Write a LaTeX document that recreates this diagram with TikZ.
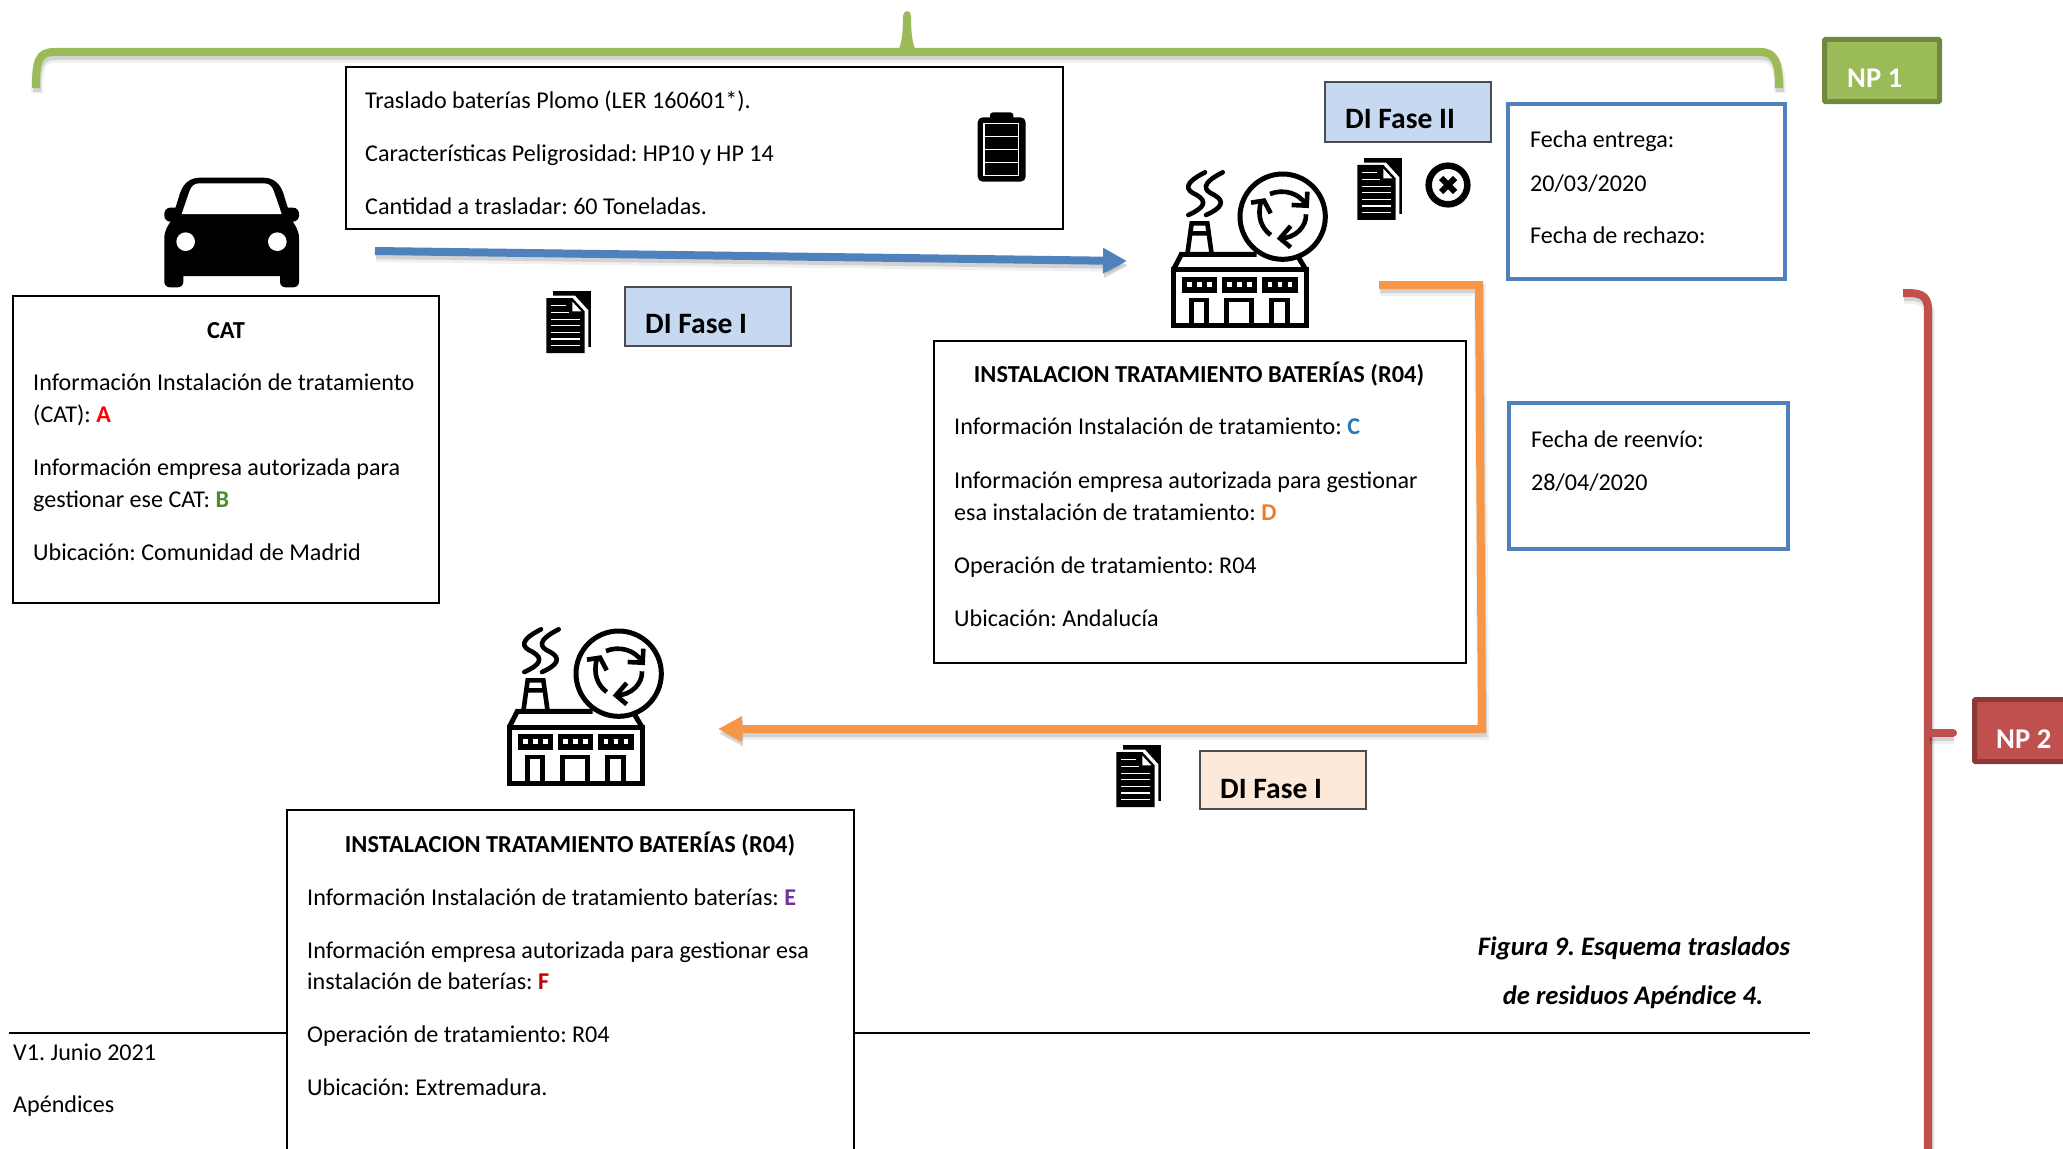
\documentclass[tikz,border=0pt]{standalone}
\usepackage{fontspec}
\setmainfont{Carlito}
\usetikzlibrary{arrows.meta}
\frenchspacing
\definecolor{gbr}{HTML}{9BBB59}
\definecolor{gbrd}{HTML}{71893F}
\definecolor{rbr}{HTML}{C0504D}
\definecolor{rbrd}{HTML}{8C3836}
\definecolor{bl}{HTML}{4F81BD}
\definecolor{bfill}{HTML}{C6D9F1}
\definecolor{org}{HTML}{F79646}
\definecolor{ofill}{HTML}{FDE9D9}
\definecolor{lA}{HTML}{FF0000}
\definecolor{lB}{HTML}{4F8A2F}
\definecolor{lC}{HTML}{2E75B6}
\definecolor{lD}{HTML}{ED7D31}
\definecolor{lE}{HTML}{7030A0}
\definecolor{lF}{HTML}{C00000}
\tikzset{
  txt/.style={anchor=base west,inner sep=0pt,font=\fontsize{24.1}{28}\selectfont},
  ttl/.style={anchor=base,inner sep=0pt,font=\fontsize{24.4}{28}\selectfont\bfseries},
  blk/.style={txt,font=\fontsize{29.6}{32}\selectfont\bfseries},
  figcap/.style={anchor=base,inner sep=0pt,font=\fontsize{26.7}{30}\selectfont\bfseries\itshape},
  whitetag/.style={txt,text=white,font=\fontsize{28.6}{32}\selectfont\bfseries},
  boxbase/.style={draw=black,line width=1.1pt,fill=white,anchor=north west,inner sep=0pt,outer sep=0pt,rectangle},
  dibase/.style={draw=black!70,line width=1.1pt,anchor=north west,inner sep=0pt,outer sep=0pt,rectangle},
  datebox/.style={draw=bl,line width=4.6pt,fill=white,anchor=north west,inner sep=0pt,outer sep=0pt,rectangle},
  tagbox/.style={line width=5pt,anchor=north west,inner sep=0pt,outer sep=0pt,rectangle,rounded corners=1pt,minimum width=115pt,minimum height=62pt},
  softline/.style={line width=8pt,
    preaction={draw=black,opacity=.06,line width=12pt,transform canvas={xshift=1pt,yshift=-5pt}},
    preaction={draw=black,opacity=.12,line width=8pt,transform canvas={xshift=1pt,yshift=-4pt}}},
  tipped/.style={softline,-{Triangle[length=24pt,width=24pt]}},
  docicon/.pic={
    \fill[black] (642,265) -- (755,265) -- (755,432) -- (642,432) -- cycle;
    \fill[white] (610,278) -- (708,278) -- (748,322) -- (748,462) -- (610,462) -- cycle;
    \fill[black] (622,285) -- (700,285) -- (737,325) -- (737,450) -- (622,450) -- cycle;
    \fill[white] (700,296) -- (727,325) -- (700,325) -- cycle;
    \draw[white,line width=1.2pt]
      (637,308) -- (680,308) (637,328) -- (690,328) (637,349) -- (722,349)
      (637,368) -- (722,368) (637,388) -- (722,388) (637,408) -- (722,408) (637,428) -- (722,428);
  },
  factoryicon/.pic={
    \draw[line width=5pt,line join=miter] (70,600) rectangle (468,768);
    \draw[line width=5pt] (70,600) -- (94,553) -- (320,553) (440,553) -- (468,600);
    \draw[line width=4.6pt] (112,553) -- (125,460) -- (172,460) -- (185,553) (120,490) -- (178,490);
    \draw[line width=4.6pt,line cap=round] (165,307) .. controls (100,340) and (105,360) .. (140,375) .. controls (175,395) and (160,415) .. (115,435);
    \draw[line width=4.6pt,line cap=round] (218,307) .. controls (153,340) and (158,360) .. (193,375) .. controls (228,395) and (213,415) .. (168,435);
    \draw[line width=5pt,fill=white] (398,440) circle (128);
    \draw[line width=4.6pt] (360,372) .. controls (400,355) and (450,370) .. (468,405);
    \draw[line width=4.6pt] (425,405) -- (470,407) -- (472,365);
    \draw[line width=4.6pt] (362,495) .. controls (335,475) and (320,440) .. (333,395);
    \draw[line width=4.6pt] (303,398) -- (342,392) -- (362,430);
    \draw[line width=4.6pt] (468,433) .. controls (470,470) and (435,505) .. (392,505);
    \draw[line width=4.6pt] (422,468) -- (390,505) -- (422,532);
    \foreach \xa/\xb in {95/200,215/322,337/443}{
      \fill[black] (\xa,622) rectangle (\xb,668);
      \foreach \k in {0,1,2}{
        \fill[white] ({(\xa+\xb)/2-30+\k*30-7},636) rectangle ++(14,14);
      }
    }
    \draw[line width=4.6pt] (125,768) -- (125,690) -- (170,690) -- (170,768);
    \draw[line width=4.6pt] (230,768) -- (230,690) -- (305,690) -- (305,768);
    \draw[line width=4.6pt] (365,768) -- (365,690) -- (412,690) -- (412,768);
  },
  caricon/.pic={
    \fill[black,rounded corners=6pt] (103,173) rectangle (200,215);
    \fill[black,rounded corners=6pt] (410,173) rectangle (507,215);
    \fill[black] (103,265) .. controls (103,240) and (115,225) .. (125,210) -- (150,130)
      .. controls (160,100) and (180,83) .. (210,83) -- (400,83)
      .. controls (430,83) and (450,100) .. (460,130) -- (485,210)
      .. controls (495,225) and (507,240) .. (507,265) -- (507,395)
      .. controls (507,405) and (500,412) .. (490,412) -- (467,412)
      .. controls (457,412) and (450,405) .. (450,395) -- (450,378) -- (160,378) -- (160,395)
      .. controls (160,405) and (153,412) .. (143,412) -- (120,412)
      .. controls (110,412) and (103,405) .. (103,395) -- cycle;
    \fill[white] (155,192) -- (178,125) .. controls (184,108) and (193,100) .. (208,100) -- (402,100)
      .. controls (417,100) and (426,108) .. (432,125) -- (455,192) -- cycle;
    \fill[white] (167,275) circle (28) (442,275) circle (28);
  },
  batteryicon/.pic={
    \fill[black,rounded corners=3pt] (90,37) rectangle (160,70);
    \fill[black,rounded corners=5pt] (53,52) rectangle (197,245);
    \draw[white,line width=1.3pt] (72,70) rectangle (176,226)
      (72,109) -- (176,109) (72,148) -- (176,148) (72,187) -- (176,187);
  },
  crossicon/.pic={
    \draw[line width=6.5pt] (0,0) circle (58);
    \draw[line width=6pt] (-21,-21) -- (21,21) (-21,21) -- (21,-21);
  }
}
\begin{document}
\begin{tikzpicture}[x=1pt,y=-1pt]
\useasboundingbox (0,0) rectangle (2063,1148);
\begin{scope}
\clip (0,0) rectangle (2063,1148);
\fill[white] (0,0) rectangle (2063,1148);

% footer rule
\coordinate (ruleL) at (9,1033);
\coordinate (ruleR) at (1810,1033);
\draw[line width=1.3pt] (ruleL) -- (ruleR);

% boxes
\node[boxbase,minimum width=717pt,minimum height=162pt] (topbox) at (346,67) {};
\node[boxbase,minimum width=426pt,minimum height=307pt] (catbox) at (13,296) {};
\node[boxbase,minimum width=532pt,minimum height=322pt] (instA) at (934,341) {};
\node[boxbase,minimum width=567pt,minimum height=360pt] (instB) at (287,810) {};
\node[dibase,fill=bfill,minimum width=166pt,minimum height=59pt] (diA) at (625,287) {};
\node[dibase,fill=bfill,minimum width=166pt,minimum height=60pt] (diB) at (1325,82) {};
\node[dibase,fill=ofill,minimum width=166pt,minimum height=58pt] (diC) at (1200,751) {};
\node[datebox,minimum width=277pt,minimum height=175pt] (dateA) at (1508,104) {};
\node[datebox,minimum width=279pt,minimum height=146pt] (dateB) at (1509,403) {};
\node[tagbox,draw=gbrd,fill=gbr] (npA) at (1824.5,39.5) {};
\node[tagbox,draw=rbrd,fill=rbr] (npB) at (1974.5,699.5) {};

% top box text
\node[txt] (t1) at (365,108) {Traslado baterías Plomo (LER 160601*).};
\node[txt] (t2) at (365,161) {Características Peligrosidad: HP10 y HP 14};
\node[txt] (t3) at (365,214) {Cantidad a trasladar: 60 Toneladas.};

% CAT
\node[ttl] (c0) at (226,338) {CAT};
\node[txt] (c1) at (33,390.5) {Información Instalación de tratamiento};
\node[txt] (c2) at (33,422.5) {(CAT): \textbf{\textcolor{lA}{A}}};
\node[txt] (c3) at (33,475.5) {Información empresa autorizada para};
\node[txt] (c4) at (33,507.5) {gestionar ese CAT: \textbf{\textcolor{lB}{B}}};
\node[txt] (c5) at (33,560) {Ubicación: Comunidad de Madrid};

% Inst A
\node[ttl] (a0) at (1199,382) {INSTALACION TRATAMIENTO BATERÍAS (R04)};
\node[txt] (a1) at (954,434) {Información Instalación de tratamiento: \textbf{\textcolor{lC}{C}}};
\node[txt] (a2) at (954,488) {Información empresa autorizada para gestionar};
\node[txt] (a3) at (954,520) {esa instalación de tratamiento: \textbf{\textcolor{lD}{D}}};
\node[txt] (a4) at (954,573) {Operación de tratamiento: R04};
\node[txt] (a5) at (954,626) {Ubicación: Andalucía};

% Inst B
\node[ttl] (b0) at (570,852) {INSTALACION TRATAMIENTO BATERÍAS (R04)};
\node[txt] (b1) at (307,905) {Información Instalación de tratamiento baterías: \textbf{\textcolor{lE}{E}}};
\node[txt] (b2) at (307,958) {Información empresa autorizada para gestionar esa};
\node[txt] (b3) at (307,989) {instalación de baterías: \textbf{\textcolor{lF}{F}}};
\node[txt] (b4) at (307,1042) {Operación de tratamiento: R04};
\node[txt] (b5) at (307,1095) {Ubicación: Extremadura.};

% dates
\node[txt] (d1) at (1530,147) {Fecha entrega:};
\node[txt] (d2) at (1530,191) {20/03/2020};
\node[txt] (d3) at (1530,243) {Fecha de rechazo:};
\node[txt] (e1) at (1531,447) {Fecha de reenvío:};
\node[txt] (e2) at (1531,490) {28/04/2020};

% DI labels
\node[blk] (l1) at (645,333) {DI Fase I};
\node[blk] (l2) at (1345,128) {DI Fase II};
\node[blk] (l3) at (1220,798) {DI Fase I};
\node[whitetag] (n1) at (1847,88) {NP 1};
\node[whitetag] (n2) at (1996,748) {NP 2};

% footer + caption
\node[txt] (f1) at (13,1060) {V1. Junio 2021};
\node[txt] (f2) at (13,1112) {Apéndices};
\node[figcap] (g1) at (1634,955) {Figura 9. Esquema traslados};
\node[figcap] (g2) at (1633,1004) {de residuos Apéndice 4.};

% connectors
\coordinate (bs) at (375,251);
\coordinate (be) at (1127,261);
\draw[tipped,bl] (bs) -- (be);
\coordinate (os) at (1379,285);
\coordinate (oc1) at (1479,285);
\coordinate (oc2) at (1482,729);
\coordinate (oe) at (718,729);
\draw[tipped,org,line join=miter] (os) -- (oc1) -- (oc2) -- (oe);

% green brace
\coordinate (gL) at (36,88);
\coordinate (gTip) at (907,11);
\coordinate (gR) at (1779,88);
\draw[softline,gbr,line cap=butt] (gL) .. controls (36,62) and (38,52) .. (54,52) -- (1760,52)
  .. controls (1775,52) and (1779,62) .. (gR);
\fill[gbr] (895,55) .. controls (900,50) and (903,40) .. (903,16)
  .. controls (903,13) and (905,11) .. (gTip) .. controls (909,11) and (911,13) .. (911,16)
  .. controls (911,40) and (914,50) .. (919,55) -- (909,55) -- (907,51) -- (905,55) -- cycle;

% red brace
\coordinate (rT) at (1903,293);
\coordinate (rB) at (1928,1160);
\coordinate (rTip) at (1953,733);
\draw[softline,rbr] (rT) .. controls (1918,293) and (1928,293) .. (1928,310) -- (rB);
\draw[softline,rbr,line cap=round] (1928,733) -- (rTip);

% icons
\pic[scale=1/3] at (130,150) {caricon};
\pic[scale=1/3] at (960,100) {batteryicon};
\pic[scale=1/3] at (1150,70) {factoryicon};
\pic[scale=1/3] at (486,527) {factoryicon};
\pic[scale=1/3] at (1150,70) {docicon};
\pic[scale=1/3] at (339,203) {docicon};
\pic[scale=1/3] at (909,657) {docicon};
\pic[scale=1/3] at (1448,185) {crossicon};
\end{scope}
\end{tikzpicture}
\end{document}
